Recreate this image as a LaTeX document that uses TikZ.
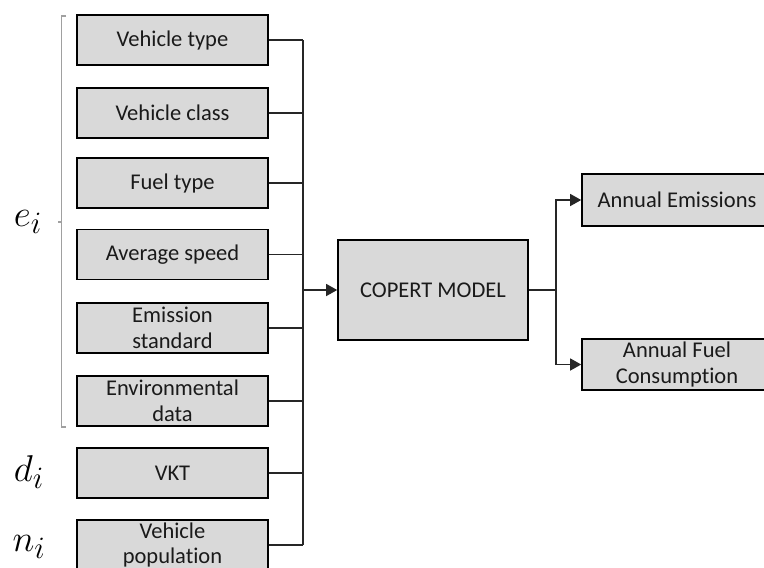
\documentclass[tikz,border=0pt]{standalone}
\usepackage{fontspec}
\setmainfont[Ligatures=NoCommon]{Carlito}
\usetikzlibrary{arrows.meta}
\begin{document}
\begin{tikzpicture}[x=1pt,y=-1pt,
  box/.style={draw=black,line width=1.6pt,fill=boxgray,minimum width=191pt,minimum height=50pt,inner sep=0pt,align=center,text=textgray,font=\fontsize{22.5}{25.5}\selectfont},
  conn/.style={draw=linegray,line width=1.3pt},
  arr/.style={conn,-{Triangle[length=11pt,width=12pt]}},
  lbl/.style={font=\fontsize{24.88}{28}\selectfont,inner sep=0pt,scale=1.5}]
\definecolor{boxgray}{HTML}{D9D9D9}
\definecolor{linegray}{HTML}{262626}
\definecolor{textgray}{HTML}{1A1A1A}
\definecolor{bracegray}{HTML}{A0A0A0}
\clip (0,0) rectangle (764,568);
\fill[white] (0,0) rectangle (764,568);
% input boxes
\node[box] (b1) at (172.5,40) {Vehicle type};
\node[box] (b2) at (172.5,113) {Vehicle class};
\node[box] (b3) at (172.5,183) {Fuel type};
\node[box] (b4) at (172.5,254.5) {Average speed};
\node[box] (b5) at (172.5,328) {Emission\\standard};
\node[box] (b6) at (172.5,401) {Environmental\\data};
\node[box] (b7) at (172.5,473) {VKT};
\node[box] (b8) at (172.5,545) {Vehicle\\population};
% model and outputs
\node[box,minimum width=190pt,minimum height=100pt] (m) at (433,290) {COPERT MODEL};
\node[box,minimum width=190pt,minimum height=52pt] (o1) at (677,200) {Annual Emissions};
\node[box,minimum width=190pt,minimum height=51pt] (o2) at (677,364.5) {Annual Fuel\\Consumption};
% bus
\coordinate (bt) at (303,40);
\coordinate (bb) at (303,545);
\coordinate (ba) at (303,290);
\draw[conn] (bt) -- (bb);
\foreach \i in {1,...,8}{\draw[conn] (b\i.east) -- (b\i.east -| bt);}
\draw[arr] (ba) -- (m.west);
% outputs
\coordinate (s) at (556,290);
\draw[conn] (m.east) -- (s);
\draw[arr] (s) |- (o1.west);
\draw[arr] (s) |- (o2.west);
% brace
\coordinate (rt) at (66,16);
\coordinate (rb) at (66,427);
\coordinate (rm) at (58,222);
\draw[draw=bracegray,line width=1.2pt] (rt) -- (61.5,16) -- (61.5,427) -- (rb);
\draw[draw=bracegray,line width=1.2pt] (61.5,222) -- (rm);
% labels
\node[lbl] (e) at (28,222) {$e_i$};
\node[lbl] (d) at (29,472) {$d_i$};
\node[lbl] (n) at (29,547) {$n_i$};
\end{tikzpicture}
\end{document}
